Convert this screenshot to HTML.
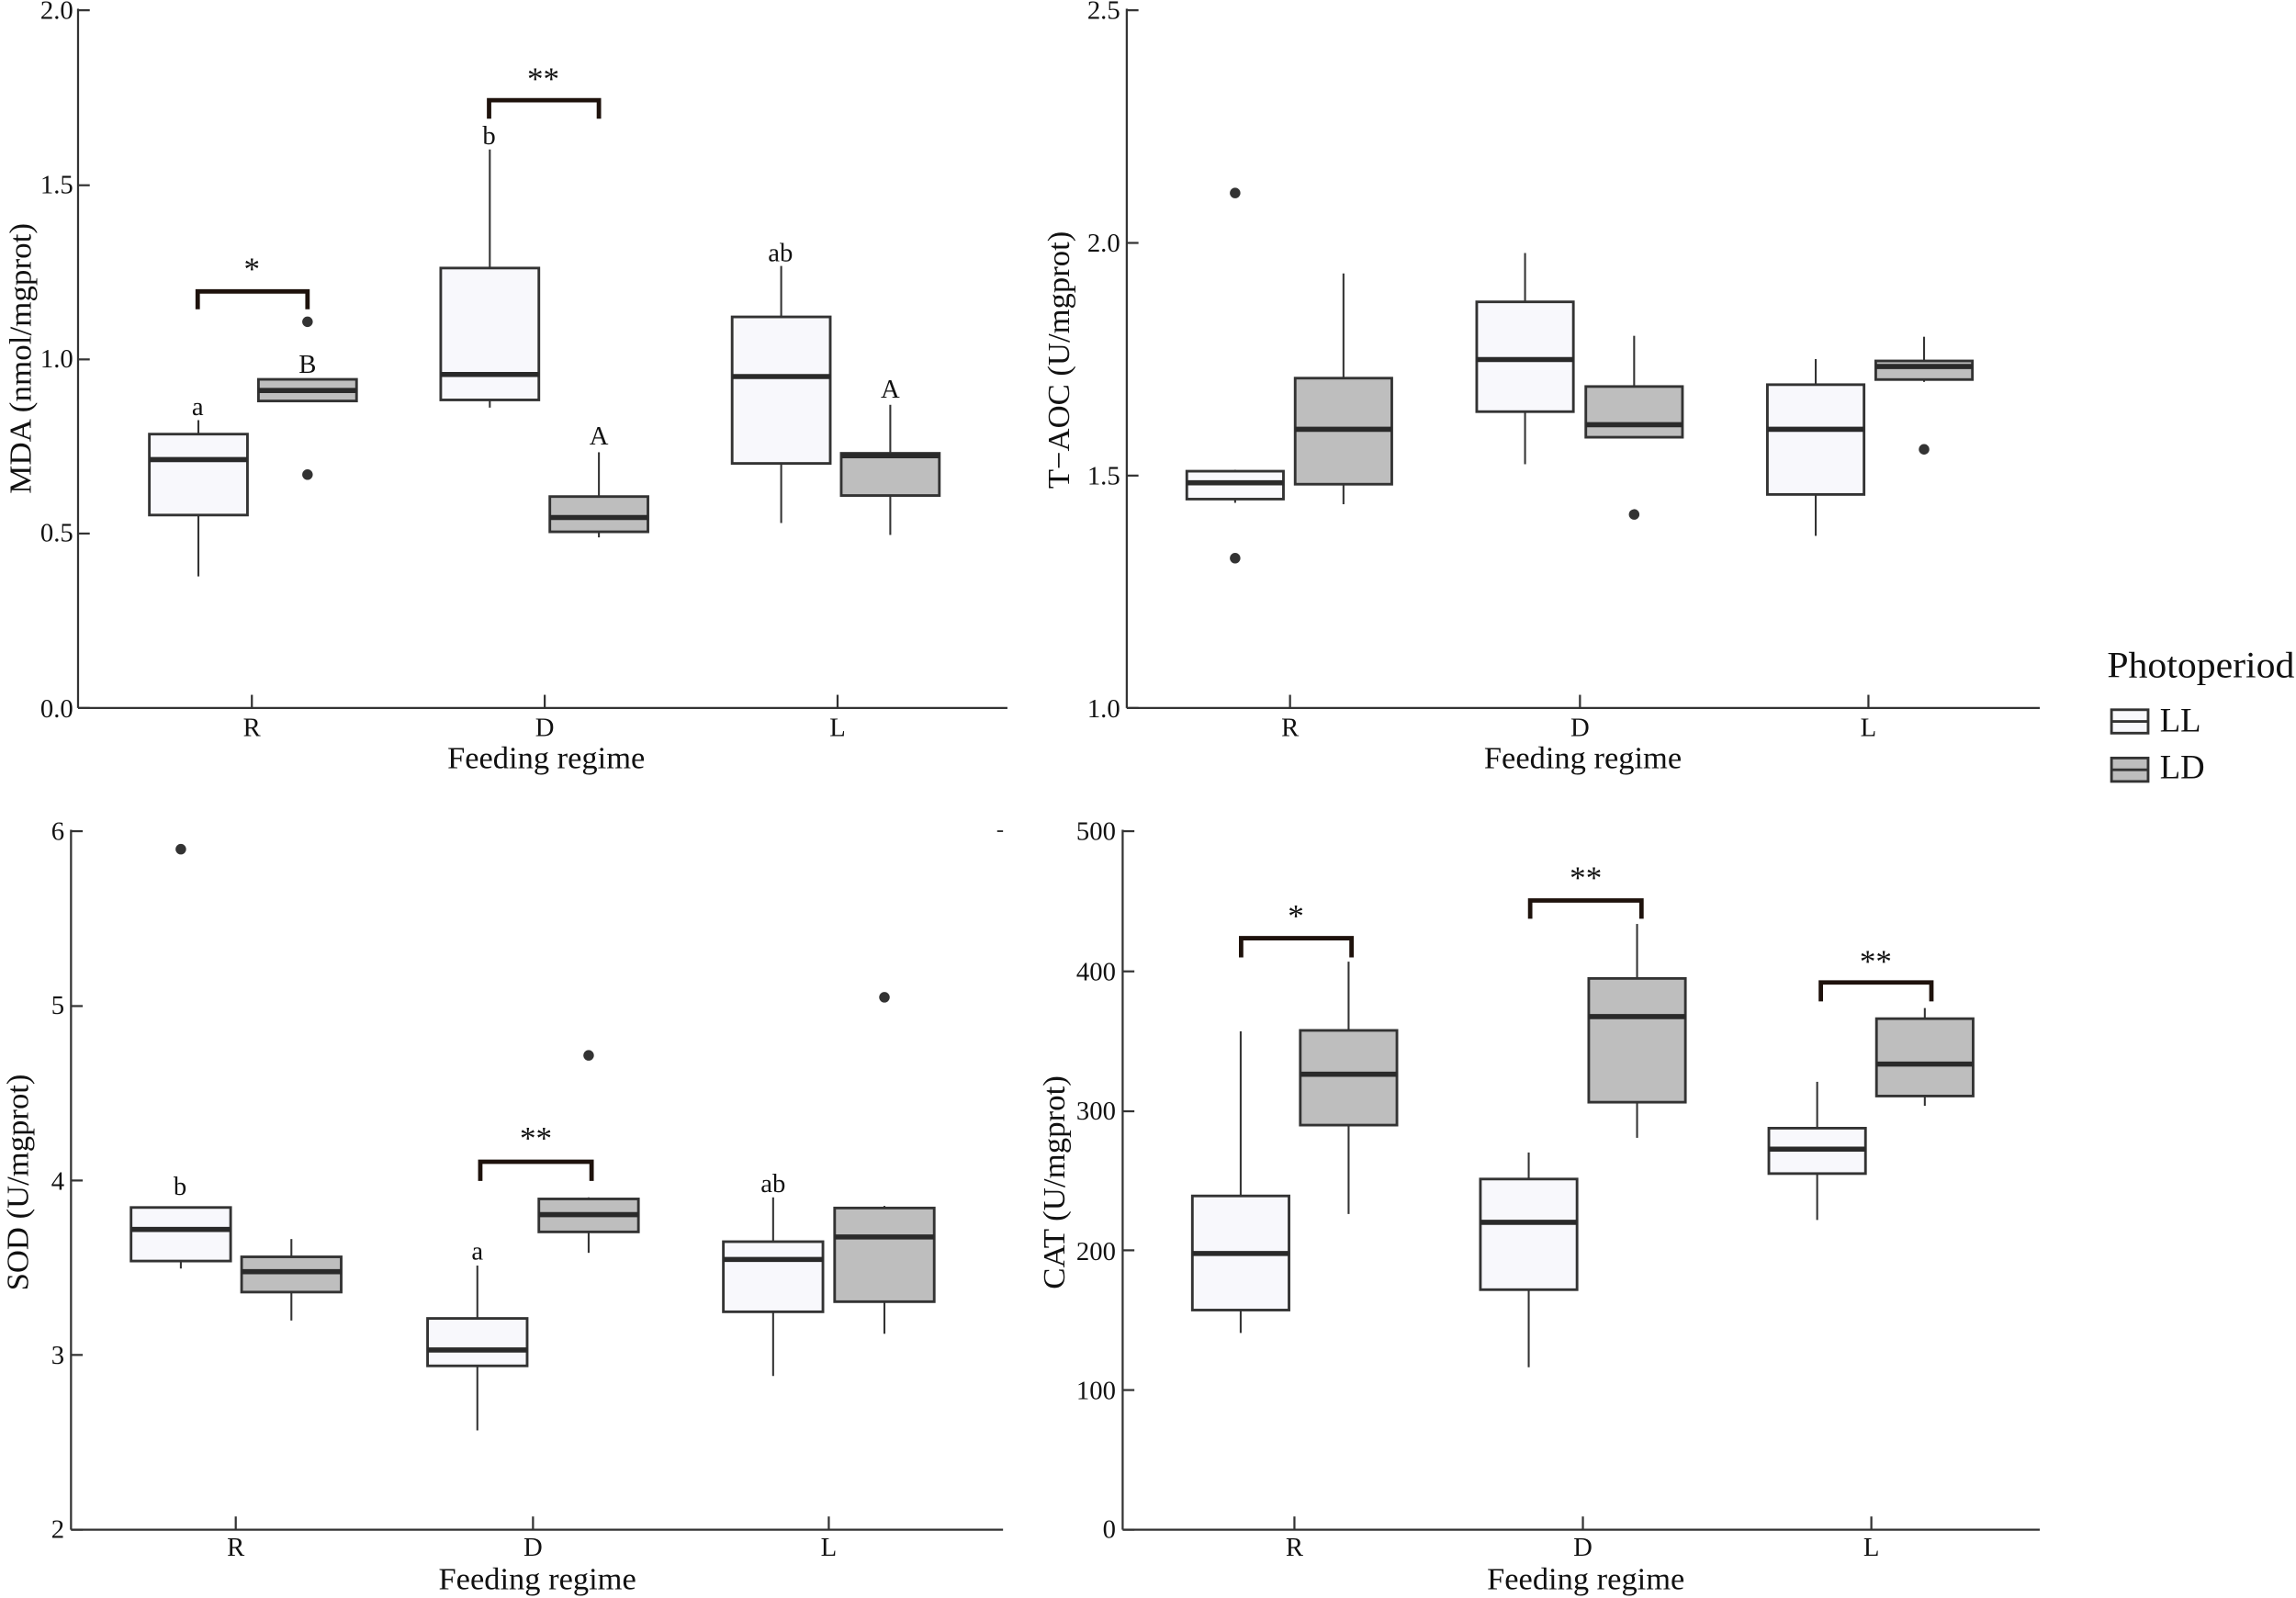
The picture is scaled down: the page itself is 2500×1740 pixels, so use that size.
<!DOCTYPE html>
<html><head><meta charset="utf-8"><style>html,body{margin:0;padding:0;background:#fff}svg{display:block}</style></head>
<body>
<svg id="s" xmlns="http://www.w3.org/2000/svg" width="2500" height="1740" viewBox="0 0 1568 1092" preserveAspectRatio="none" font-family="'Liberation Serif', serif" fill="#111">
<rect width="1568" height="1092" fill="#fff"/>
<g id="g"></g>
<g font-size="18" text-anchor="end">
<text x="50" y="13">2.0</text><text x="50" y="132">1.5</text><text x="50" y="251">1.0</text><text x="50" y="370">0.5</text><text x="50" y="490">0.0</text>
<text x="765" y="13">2.5</text><text x="765" y="172">2.0</text><text x="765" y="331">1.5</text><text x="765" y="490">1.0</text>
<text x="44" y="574">6</text><text x="44" y="693">5</text><text x="44" y="813">4</text><text x="44" y="932">3</text><text x="44" y="1051">2</text>
<text x="762" y="574">500</text><text x="762" y="670">400</text><text x="762" y="765">300</text><text x="762" y="861">200</text><text x="762" y="956">100</text><text x="762" y="1051">0</text>
</g>
<g font-size="18" text-anchor="middle">
<text x="172" y="503">R</text><text x="372" y="503">D</text><text x="572" y="503">L</text>
<text x="881" y="503">R</text><text x="1079" y="503">D</text><text x="1276" y="503">L</text>
<text x="161" y="1063">R</text><text x="364" y="1063">D</text><text x="566" y="1063">L</text>
<text x="884" y="1063">R</text><text x="1081" y="1063">D</text><text x="1278" y="1063">L</text>
</g>
<g font-size="21" text-anchor="middle">
<text x="373" y="525" textLength="135" lengthAdjust="spacingAndGlyphs">Feeding regime</text>
<text x="1081" y="525" textLength="135" lengthAdjust="spacingAndGlyphs">Feeding regime</text>
<text x="367" y="1086" textLength="135" lengthAdjust="spacingAndGlyphs">Feeding regime</text>
<text x="1083" y="1086" textLength="135" lengthAdjust="spacingAndGlyphs">Feeding regime</text>
<text transform="translate(21,245) rotate(-90)" textLength="185" lengthAdjust="spacingAndGlyphs">MDA (nmol/mgprot)</text>
<text transform="translate(730,246) rotate(-90)" textLength="176" lengthAdjust="spacingAndGlyphs">T−AOC (U/mgprot)</text>
<text transform="translate(19,808) rotate(-90)" textLength="148" lengthAdjust="spacingAndGlyphs">SOD (U/mgprot)</text>
<text transform="translate(727,808) rotate(-90)" textLength="146" lengthAdjust="spacingAndGlyphs">CAT (U/mgprot)</text>
</g>
<g font-size="18" text-anchor="middle" dominant-baseline="central">
<text x="135" y="278">a</text><text x="210" y="249">B</text>
<text x="334" y="93">b</text><text x="409" y="298">A</text>
<text x="533" y="173">ab</text><text x="608" y="266">A</text>
<text x="123" y="811">b</text><text x="326" y="855">a</text><text x="528" y="809">ab</text>
</g>
<g font-size="22" text-anchor="middle" dominant-baseline="central">
<text x="172" y="184">*</text><text x="371" y="54">**</text>
<text x="366" y="778">**</text>
<text x="885" y="626">*</text><text x="1083" y="600">**</text><text x="1281" y="657">**</text>
</g>
<text x="1439" y="463" font-size="25" textLength="128" lengthAdjust="spacingAndGlyphs">Photoperiod</text>
<text x="1475" y="500" font-size="23">LL</text>
<text x="1475" y="532" font-size="23">LD</text>
<g stroke="#333" stroke-width="1.8">
<rect x="1442" y="485" width="25" height="16" fill="#f8f8fc"/><line x1="1442" y1="493" x2="1467" y2="493"/>
<rect x="1442" y="518" width="25" height="16" fill="#bebebe"/><line x1="1442" y1="526" x2="1467" y2="526"/>
</g>
</svg>
<script>
var g=document.getElementById('g'),h='';
function L(x1,y1,x2,y2,w,c){h+='<line x1="'+x1+'" y1="'+y1+'" x2="'+x2+'" y2="'+y2+'" stroke="'+(c||'#333')+'" stroke-width="'+(w||1.3)+'"/>';}
function panel(ax,x1,y0,ytop,ticks,cats){L(ax,ytop-1,ax,y0,1.4);L(ax,y0,x1,y0,1.4);ticks.forEach(function(t){L(ax,t,ax+8,t,1.4)});cats.forEach(function(c){L(c,y0,c,y0-9,1.4)});}
function box(Y,cx,w,d,fill){var hw=w/2;L(cx,Y(d[0]),cx,Y(d[1]),1.3);L(cx,Y(d[3]),cx,Y(d[4]),1.3);
h+='<rect x="'+(cx-hw)+'" y="'+Y(d[1])+'" width="'+w+'" height="'+(Y(d[3])-Y(d[1]))+'" fill="'+fill+'" stroke="#333" stroke-width="1.8"/>';
L(cx-hw,Y(d[2]),cx+hw,Y(d[2]),3.5,'#2a2a2a');(d[5]||[]).forEach(function(o){h+='<circle cx="'+cx+'" cy="'+Y(o)+'" r="3.6" fill="#333"/>'});}
function br(Y,xa,xb,t,b){h+='<path d="M'+xa+' '+Y(b)+'V'+Y(t)+'H'+xb+'V'+Y(b)+'" fill="none" stroke="#1e120c" stroke-width="3"/>';}
var LL='#f8f8fc',LD='#bebebe';
var Y1=function(v){return 483.8-v*238.4};
panel(53.3,688,483.8,7,[7,126.6,245.6,364.6,483.8],[172,372,572]);
box(Y1,135.5,67,[0.825,0.785,0.712,0.553,0.377],LL);
box(Y1,210,67,[0.942,0.942,0.91,0.88,0.88,[1.107,0.669]],LD);
box(Y1,334.5,67,[1.601,1.261,0.956,0.883,0.861],LL);box(Y1,409,67,[0.733,0.606,0.546,0.505,0.489],LD);
box(Y1,533.5,67,[1.267,1.121,0.95,0.701,0.53],LL);box(Y1,608,67,[0.869,0.73,0.723,0.609,0.496],LD);
br(Y1,135,210,1.194,1.143);br(Y1,334,409,1.742,1.689);
var Y2=function(v){return 483.8-(v-1)*317.9};
panel(769.5,1393,483.8,7,[7,166,325,483.8],[881,1079,1276]);
box(Y2,843.5,66,[1.512,1.509,1.484,1.449,1.441,[2.107,1.322]],LL);box(Y2,917.5,66,[1.934,1.709,1.599,1.481,1.438],LD);
box(Y2,1041.5,66,[1.978,1.873,1.749,1.637,1.524],LL);box(Y2,1116,66,[1.8,1.691,1.609,1.582,1.58,[1.416]],LD);
box(Y2,1240,66,[1.75,1.695,1.599,1.459,1.37],LL);box(Y2,1314,66,[1.798,1.746,1.734,1.706,1.701,[1.556]],LD);
var Y3=function(v){return 1045.3-(v-2)*119.2};
panel(48.5,685,1045.3,568,[568,687.5,806.7,925.9,1045.3],[161,364,566]);L(681,568,685,568,1.2);
box(Y3,123.5,68,[3.853,3.847,3.721,3.54,3.497,[5.901]],LL);box(Y3,199,68,[3.666,3.564,3.479,3.362,3.199],LD);
box(Y3,326,68,[3.514,3.211,3.03,2.939,2.569],LL);box(Y3,402,68,[3.905,3.896,3.806,3.707,3.587,[4.719]],LD);
box(Y3,528,68,[3.905,3.651,3.549,3.249,2.881],LL);box(Y3,604,68,[3.856,3.844,3.678,3.307,3.123,[5.052]],LD);
br(Y3,328,404,4.109,3.999);
var Y4=function(v){return 1045.3-v*0.9546};
panel(766.7,1393,1045.3,568,[568,663.8,759.4,854.4,949.9,1045.3],[884,1081,1278]);
box(Y4,847.3,66,[356.7,238.9,197.7,157.2,140.8],LL);box(Y4,921,66,[406.6,357.4,326,289.6,226],LD);
box(Y4,1044,66,[270,251,220,171.8,116.3],LL);box(Y4,1118,66,[433.6,394.6,367.3,306,280.5],LD);
box(Y4,1241,66,[320.6,287.4,272.4,254.9,221.7],LL);box(Y4,1314.5,66,[373.4,365.8,333.3,310.4,303.4],LD);
br(Y4,847.6,923,423.4,409.6);br(Y4,1045,1121,450.4,437.3);br(Y4,1243.5,1319,391.7,378.2);
g.innerHTML=h;
</script>
</body></html>
